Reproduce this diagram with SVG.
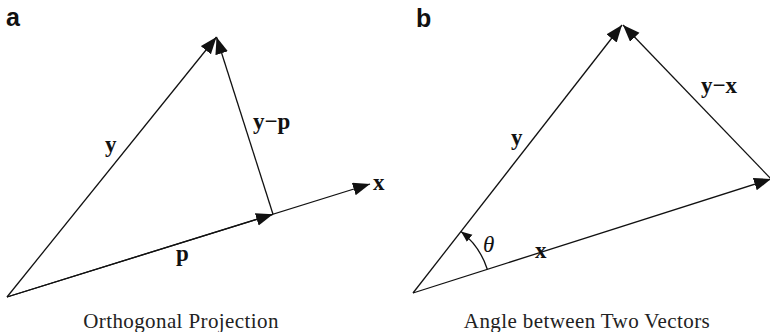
<svg xmlns="http://www.w3.org/2000/svg" width="770" height="332" viewBox="0 0 770 332">
<style>
.vec{stroke:#111;stroke-width:1.3;fill:none}
.lbl{font-family:"Liberation Serif","Times New Roman",serif;font-weight:bold;font-size:23px;fill:#111}
.pan{font-family:"Liberation Sans",Arial,sans-serif;font-weight:bold;font-size:25px;fill:#111}
.cap{font-family:"Liberation Serif","Times New Roman",serif;font-size:21px;letter-spacing:0.4px;fill:#222}
.th{font-family:"Liberation Serif","Times New Roman",serif;font-style:italic;font-size:23px;fill:#111}
</style>
<defs>
<marker id="ah" markerUnits="userSpaceOnUse" markerWidth="18" markerHeight="14" refX="17" refY="6.5" orient="auto">
<path d="M0,0 L17,6.5 L0,13 z" fill="#111"/>
</marker>
<marker id="sah" markerUnits="userSpaceOnUse" markerWidth="12" markerHeight="10" refX="11" refY="4.5" orient="auto">
<path d="M0,0 L11,4.5 L0,9 z" fill="#111"/>
</marker>
</defs>
<g id="connectors">
<line class="vec" x1="7" y1="297" x2="370" y2="184" marker-end="url(#ah)"/>
<line class="vec" x1="7" y1="297" x2="273" y2="214.3" marker-end="url(#ah)"/>
<line class="vec" x1="7" y1="297" x2="216.5" y2="37" marker-end="url(#ah)"/>
<line class="vec" x1="273" y1="214.3" x2="216.5" y2="37" marker-end="url(#ah)"/>
<line class="vec" x1="413" y1="293" x2="771" y2="179" marker-end="url(#ah)"/>
<line class="vec" x1="413" y1="293" x2="622" y2="25" marker-end="url(#ah)"/>
<line class="vec" x1="772" y1="180" x2="623" y2="25" marker-end="url(#ah)"/>
<path class="vec" d="M487.3,269.3 A78,78 0 0 0 461,231.5" marker-end="url(#sah)"/>
</g>
<g id="panel-a">
<text class="pan" x="6" y="26">a</text>
<text class="lbl" x="105" y="152">y</text>
<text class="lbl" x="253" y="129">y−p</text>
<text class="lbl" x="373" y="190">x</text>
<text class="lbl" x="176" y="261">p</text>
<text class="cap" x="181" y="328" text-anchor="middle">Orthogonal Projection</text>
</g>
<g id="panel-b">
<text class="pan" x="416" y="27">b</text>
<text class="lbl" x="511" y="145">y</text>
<text class="lbl" x="701" y="93">y−x</text>
<text class="lbl" x="535" y="258">x</text>
<text class="th" x="483" y="252">θ</text>
<text class="cap" x="587" y="328" text-anchor="middle">Angle between Two Vectors</text>
</g>
</svg>
